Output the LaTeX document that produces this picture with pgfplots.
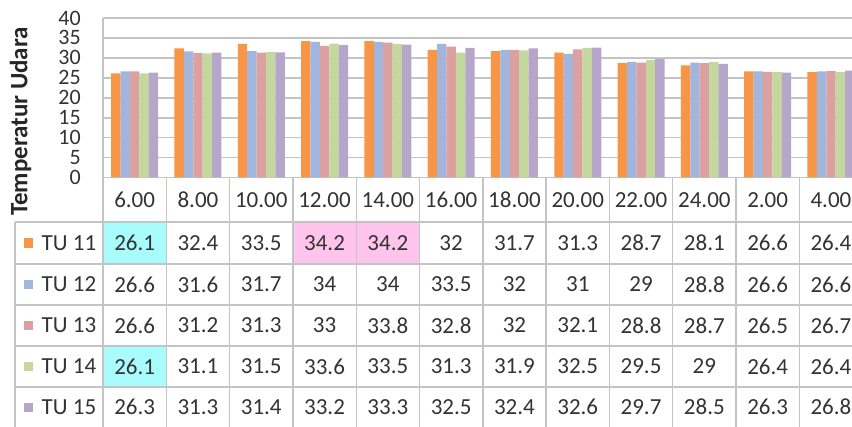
\documentclass[border=0pt]{standalone}
\usepackage{fontspec}
\setmainfont{Carlito}
\usepackage{pgfplots}
\usepackage{pgfplotstable}
\pgfplotsset{compat=1.18}
\definecolor{c1}{HTML}{F79646}
\definecolor{c2}{HTML}{A2B6DD}
\definecolor{c3}{HTML}{DBA0A0}
\definecolor{c4}{HTML}{C4D79F}
\definecolor{c5}{HTML}{B5A6CA}
\definecolor{gridc}{HTML}{C4C4C4}
\definecolor{txt}{HTML}{333333}
\definecolor{cyancell}{HTML}{A8FCFC}
\definecolor{pinkcell}{HTML}{FFC4EC}

\pgfplotstableread{
x TU11 TU12 TU13 TU14 TU15
0 26.1 26.6 26.6 26.1 26.3
1 32.4 31.6 31.2 31.1 31.3
2 33.5 31.7 31.3 31.5 31.4
3 34.2 34 33 33.6 33.2
4 34.2 34 33.8 33.5 33.3
5 32 33.5 32.8 31.3 32.5
6 31.7 32 32 31.9 32.4
7 31.3 31 32.1 32.5 32.6
8 28.7 29 28.8 29.5 29.7
9 28.1 28.8 28.7 29 28.5
10 26.6 26.6 26.5 26.4 26.3
11 26.4 26.6 26.7 26.4 26.8
}\data

\begin{document}
\begin{tikzpicture}[x=1pt,y=1pt]
\useasboundingbox (0,0) rectangle (852,427);
\clip (0,0) rectangle (852,427);
% highlighted cells
\fill[cyancell] (103,163) rectangle (166.3,205);
\fill[cyancell] (103,40) rectangle (166.3,81);
\fill[pinkcell] (292.9,163) rectangle (419.5,205);
% table grid
\begin{scope}[draw=gridc, line width=1.4pt]
\foreach \yy in {205,163,122,81,40} \draw (15,\yy) -- (860,\yy);
\draw (15,205) -- (15,-2);
\foreach \k in {0,...,12} \draw ({103+63.3*\k},249.5) -- ({103+63.3*\k},-2);
\end{scope}

\begin{axis}[
 at={(103pt,249.5pt)}, anchor=south west, scale only axis,
 width=759.6pt, height=159.5pt,
 xmin=-0.5, xmax=11.5, ymin=0, ymax=40,
 ybar=0pt, bar width=9.4pt,
 xtick={0,...,11},
 xticklabels={6.00,8.00,10.00,12.00,14.00,16.00,18.00,20.00,22.00,24.00,2.00,4.00},
 ytick={0,5,...,40},
 major tick length=0pt,
 ymajorgrids, grid style={gridc, line width=1.7pt},
 axis x line*=bottom, axis y line*=left,
 axis line style={gridc, line width=1.4pt},
 tick label style={text=txt, font=\fontsize{22}{24}\selectfont},
 xticklabel style={font=\fontsize{23}{25}\selectfont, anchor=center, yshift=-22.5pt},
 yticklabel style={anchor=east, inner sep=0pt, xshift=-22pt},
 /pgf/number format/assume math mode=true,
]
\addplot[fill=c1, draw=none] table[x=x,y=TU11]{\data};
\addplot[fill=c2, draw=none] table[x=x,y=TU12]{\data};
\addplot[fill=c3, draw=none] table[x=x,y=TU13]{\data};
\addplot[fill=c4, draw=none] table[x=x,y=TU14]{\data};
\addplot[fill=c5, draw=none] table[x=x,y=TU15]{\data};
\end{axis}

\begin{axis}[
 at={(103pt,249.5pt)}, anchor=south west, scale only axis,
 width=759.6pt, height=159.5pt,
 xmin=-0.5, xmax=11.5, ymin=0, ymax=40,
 hide axis, clip=false,
 nodes near coords, point meta=explicit,
 every node near coord/.append style={anchor=center, text=txt, font=\fontsize{23}{25}\selectfont, inner sep=0pt},
 /pgf/number format/assume math mode=true,
]
\addplot[draw=none, mark=none] table[x=x, y expr=-16.4, meta=TU11]{\data};
\addplot[draw=none, mark=none] table[x=x, y expr=-26.8, meta=TU12]{\data};
\addplot[draw=none, mark=none] table[x=x, y expr=-37.1, meta=TU13]{\data};
\addplot[draw=none, mark=none] table[x=x, y expr=-47.4, meta=TU14]{\data};
\addplot[draw=none, mark=none] table[x=x, y expr=-57.6, meta=TU15]{\data};
\end{axis}

% legend keys in table
\foreach \c/\n/\yy in {c1/TU 11/184, c2/TU 12/142.5, c3/TU 13/101.5, c4/TU 14/60.5, c5/TU 15/19.5} {
 \fill[\c] (23.5,\yy-4.75) rectangle ++(9,9.5);
 \node[anchor=west, inner sep=0pt, text=txt, font=\fontsize{23}{25}\selectfont] at (41.5,\yy) {\n};
}
\node[rotate=90, inner sep=0pt, font=\bfseries\fontsize{25}{27}\selectfont, text=black!85] at (20.5,305.5) {Temperatur Udara};
\end{tikzpicture}
\end{document}
